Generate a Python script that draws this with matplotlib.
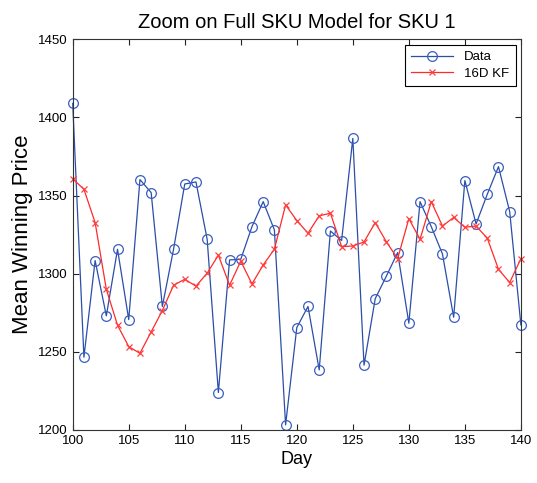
import matplotlib
matplotlib.use("Agg")
import matplotlib.pyplot as plt

days = list(range(100, 141))
data = [1409, 1246.5, 1308.4, 1273, 1315.6, 1270.6, 1360.2, 1351.9, 1279, 1315.6,
        1357.4, 1358.7, 1322, 1223.9, 1308.8, 1309.2, 1330.1, 1346.1, 1328, 1203.2,
        1265.5, 1279, 1238.4, 1327.3, 1321.2, 1386.6, 1241.4, 1284, 1298.5, 1313.5,
        1268.3, 1346.1, 1330.1, 1312.6, 1272.1, 1359.6, 1331.8, 1350.8, 1368.5, 1339.7,
        1267.2]
kf = [1360.8, 1354, 1332.7, 1290, 1267, 1253.3, 1249, 1262.7, 1276.4, 1292.6,
      1296.4, 1292, 1300.3, 1311.8, 1292.6, 1308, 1293.4, 1305.6, 1315.6, 1344,
      1334, 1325.9, 1337, 1338.7, 1317.3, 1317.7, 1320.3, 1332.7, 1320.3, 1309.6,
      1335.2, 1322, 1346.1, 1330.5, 1336, 1329.7, 1330.5, 1322.7, 1302.8, 1294.3,
      1309.6]
xticks = [100, 105, 110, 115, 120, 125, 130, 135, 140]
yticks = [1200, 1250, 1300, 1350, 1400, 1450]

plt.rcParams['font.family'] = ['Liberation Sans', 'DejaVu Sans']

fig = plt.figure(figsize=(5.37, 4.83), dpi=100)
ax = fig.add_axes([0.1354, 0.110, 0.8346, 0.8086])

ax.plot(days, data, color='#2b4ea8', lw=0.9, marker='o', ms=7,
        mfc='none', mec='#3a5fc0', mew=0.9, label='Data', clip_on=False)
ax.plot(days, kf, color='#ff2a2a', lw=0.9, marker='x', ms=4.5,
        mec='#ff4040', mew=0.9, label='16D KF', clip_on=False)

ax.set_xlim(100, 140)
ax.set_ylim(1200, 1450)
ax.set_xticks(xticks)
ax.set_yticks(yticks)
ax.tick_params(direction='in', top=True, right=True, labelsize=9.5,
               length=4, width=0.8, colors='#222222', labelcolor='black')
for s in ax.spines.values():
    s.set_color('#333333')
    s.set_linewidth(0.8)

ax.set_title('Zoom on Full SKU Model for SKU 1', fontsize=14.5, pad=8)
ax.set_xlabel('Day', fontsize=13, labelpad=3)
ax.set_ylabel('Mean Winning Price', fontsize=16, labelpad=4)

leg = ax.legend(loc='upper right', fontsize=9.5, fancybox=False,
                edgecolor='black', framealpha=1, borderaxespad=0.4,
                handlelength=3.2, borderpad=0.5, labelspacing=0.3)
leg.get_frame().set_linewidth(0.8)

fig.savefig('out.png', dpi=100)
